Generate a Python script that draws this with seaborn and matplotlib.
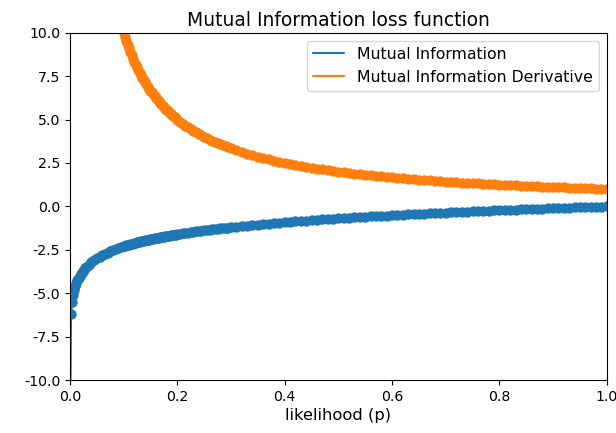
import matplotlib
matplotlib.use("Agg")
import matplotlib.pyplot as plt
import seaborn as sns

# likelihood values (p)
p = [0.000001,
     0.002, 0.004, 0.006, 0.008, 0.010, 0.012, 0.014, 0.016, 0.018, 0.020,
     0.022, 0.024, 0.026, 0.028, 0.030,
     0.035, 0.040, 0.045, 0.050, 0.055, 0.060, 0.065, 0.070, 0.075, 0.080,
     0.085, 0.090, 0.095,
     0.1000, 0.1025, 0.1050, 0.1075, 0.1100, 0.1125, 0.1150, 0.1175,
     0.1200, 0.1225, 0.1250, 0.1275, 0.1300, 0.1325, 0.1350, 0.1375,
     0.1400, 0.1425, 0.1450, 0.1475, 0.1500, 0.1525, 0.1550, 0.1575,
     0.1600, 0.1625, 0.1650, 0.1675, 0.1700, 0.1725, 0.1750, 0.1775,
     0.1800, 0.1825, 0.1850, 0.1875, 0.1900, 0.1925, 0.1950, 0.1975,
     0.200, 0.205, 0.210, 0.215, 0.220, 0.225, 0.230,
     0.235, 0.240, 0.245, 0.250, 0.255, 0.260, 0.265, 0.270, 0.275, 0.280,
     0.285, 0.290, 0.295, 0.300,
     0.31, 0.32, 0.33, 0.34, 0.35, 0.36, 0.37, 0.38, 0.39, 0.40,
     0.41, 0.42, 0.43, 0.44, 0.45, 0.46, 0.47, 0.48, 0.49, 0.50,
     0.51, 0.52, 0.53, 0.54, 0.55, 0.56, 0.57, 0.58, 0.59, 0.60,
     0.61, 0.62, 0.63, 0.64, 0.65, 0.66, 0.67, 0.68, 0.69, 0.70,
     0.71, 0.72, 0.73, 0.74, 0.75, 0.76, 0.77, 0.78, 0.79, 0.80,
     0.81, 0.82, 0.83, 0.84, 0.85, 0.86, 0.87, 0.88, 0.89, 0.90,
     0.91, 0.92, 0.93, 0.94, 0.95, 0.96, 0.97, 0.98, 0.99, 1.00]

mutual_information = [-13.816,
     -6.215, -5.521, -5.116, -4.828, -4.605, -4.423, -4.269, -4.135, -4.017, -3.912,
     -3.817, -3.730, -3.650, -3.576, -3.507,
     -3.352, -3.219, -3.101, -2.996, -2.900, -2.813, -2.733, -2.659, -2.590, -2.526,
     -2.465, -2.408, -2.354,
     -2.303, -2.278, -2.254, -2.230, -2.207, -2.185, -2.163, -2.141,
     -2.120, -2.100, -2.079, -2.060, -2.040, -2.021, -2.002, -1.984,
     -1.966, -1.948, -1.931, -1.914, -1.897, -1.881, -1.864, -1.848,
     -1.833, -1.817, -1.802, -1.787, -1.772, -1.757, -1.743, -1.729,
     -1.715, -1.701, -1.687, -1.674, -1.661, -1.648, -1.635, -1.622,
     -1.609, -1.585, -1.561, -1.537, -1.514, -1.492, -1.470,
     -1.448, -1.427, -1.406, -1.386, -1.366, -1.347, -1.328, -1.309, -1.291, -1.273,
     -1.255, -1.238, -1.221, -1.204,
     -1.171, -1.139, -1.109, -1.079, -1.050, -1.022, -0.994, -0.968, -0.942, -0.916,
     -0.892, -0.868, -0.844, -0.821, -0.799, -0.777, -0.755, -0.734, -0.713, -0.693,
     -0.673, -0.654, -0.635, -0.616, -0.598, -0.580, -0.562, -0.545, -0.528, -0.511,
     -0.494, -0.478, -0.462, -0.446, -0.431, -0.416, -0.400, -0.386, -0.371, -0.357,
     -0.342, -0.329, -0.315, -0.301, -0.288, -0.274, -0.261, -0.248, -0.236, -0.223,
     -0.211, -0.198, -0.186, -0.174, -0.163, -0.151, -0.139, -0.128, -0.117, -0.105,
     -0.094, -0.083, -0.073, -0.062, -0.051, -0.041, -0.030, -0.020, -0.010, 0.000]

mi_derivative = [1000000.0,
     500.0, 250.0, 166.667, 125.0, 100.0, 83.333, 71.429, 62.5, 55.556, 50.0,
     45.455, 41.667, 38.462, 35.714, 33.333,
     28.571, 25.0, 22.222, 20.0, 18.182, 16.667, 15.385, 14.286, 13.333, 12.5,
     11.765, 11.111, 10.526,
     10.0, 9.756, 9.524, 9.302, 9.091, 8.889, 8.696, 8.511,
     8.333, 8.163, 8.0, 7.843, 7.692, 7.547, 7.407, 7.273,
     7.143, 7.018, 6.897, 6.780, 6.667, 6.557, 6.452, 6.349,
     6.25, 6.154, 6.061, 5.970, 5.882, 5.797, 5.714, 5.634,
     5.556, 5.479, 5.405, 5.333, 5.263, 5.195, 5.128, 5.063,
     5.0, 4.878, 4.762, 4.651, 4.545, 4.444, 4.348,
     4.255, 4.167, 4.082, 4.0, 3.922, 3.846, 3.774, 3.704, 3.636, 3.571,
     3.509, 3.448, 3.390, 3.333,
     3.226, 3.125, 3.030, 2.941, 2.857, 2.778, 2.703, 2.632, 2.564, 2.5,
     2.439, 2.381, 2.326, 2.273, 2.222, 2.174, 2.128, 2.083, 2.041, 2.0,
     1.961, 1.923, 1.887, 1.852, 1.818, 1.786, 1.754, 1.724, 1.695, 1.667,
     1.639, 1.613, 1.587, 1.563, 1.538, 1.515, 1.493, 1.471, 1.449, 1.429,
     1.408, 1.389, 1.370, 1.351, 1.333, 1.316, 1.299, 1.282, 1.266, 1.25,
     1.235, 1.220, 1.205, 1.190, 1.176, 1.163, 1.149, 1.136, 1.124, 1.111,
     1.099, 1.087, 1.075, 1.064, 1.053, 1.042, 1.031, 1.020, 1.010, 1.0]

labels = ["Mutual Information", "Mutual Information Derivative"]
title = "Mutual Information loss function"
xlabel = "likelihood (p)"

sns.set_style("ticks")
plt.rcParams["font.family"] = ["DejaVu Sans"]
plt.rcParams["axes.edgecolor"] = "black"
plt.rcParams["xtick.color"] = "black"
plt.rcParams["ytick.color"] = "black"
plt.rcParams["text.color"] = "black"
plt.rcParams["axes.labelcolor"] = "black"

fig, ax = plt.subplots(figsize=(6.16, 4.33), dpi=100)
fig.subplots_adjust(left=0.1136, right=0.985, top=0.9245, bottom=0.1224)

c0, c1 = "#1f77b4", "#ff7f0e"
sns.lineplot(x=p, y=mutual_information, ax=ax, color=c0, label=labels[0],
             sort=False, linewidth=1.5)
sns.lineplot(x=p, y=mi_derivative, ax=ax, color=c1, label=labels[1],
             sort=False, linewidth=1.5)
sns.scatterplot(x=p, y=mutual_information, ax=ax, color=c0, s=56,
                linewidth=0, legend=False)
sns.scatterplot(x=p, y=mi_derivative, ax=ax, color=c1, s=56,
                linewidth=0, legend=False)

ax.set_xlim(0, 1)
ax.set_ylim(-10, 10)
ax.set_xticks([0.0, 0.2, 0.4, 0.6, 0.8, 1.0])
ax.set_yticks([-10, -7.5, -5, -2.5, 0, 2.5, 5, 7.5, 10])
ax.set_yticklabels(["-10.0", "-7.5", "-5.0", "-2.5", "0.0", "2.5", "5.0", "7.5", "10.0"])
ax.set_xlabel(xlabel, fontsize=11.8, labelpad=3)
ax.set_title(title, fontsize=13.5, pad=5)
ax.tick_params(labelsize=10.2)
ax.legend(loc="upper right", fontsize=11.3, framealpha=0.8, edgecolor="0.8",
          fancybox=True)

fig.savefig("out.png", dpi=100)
